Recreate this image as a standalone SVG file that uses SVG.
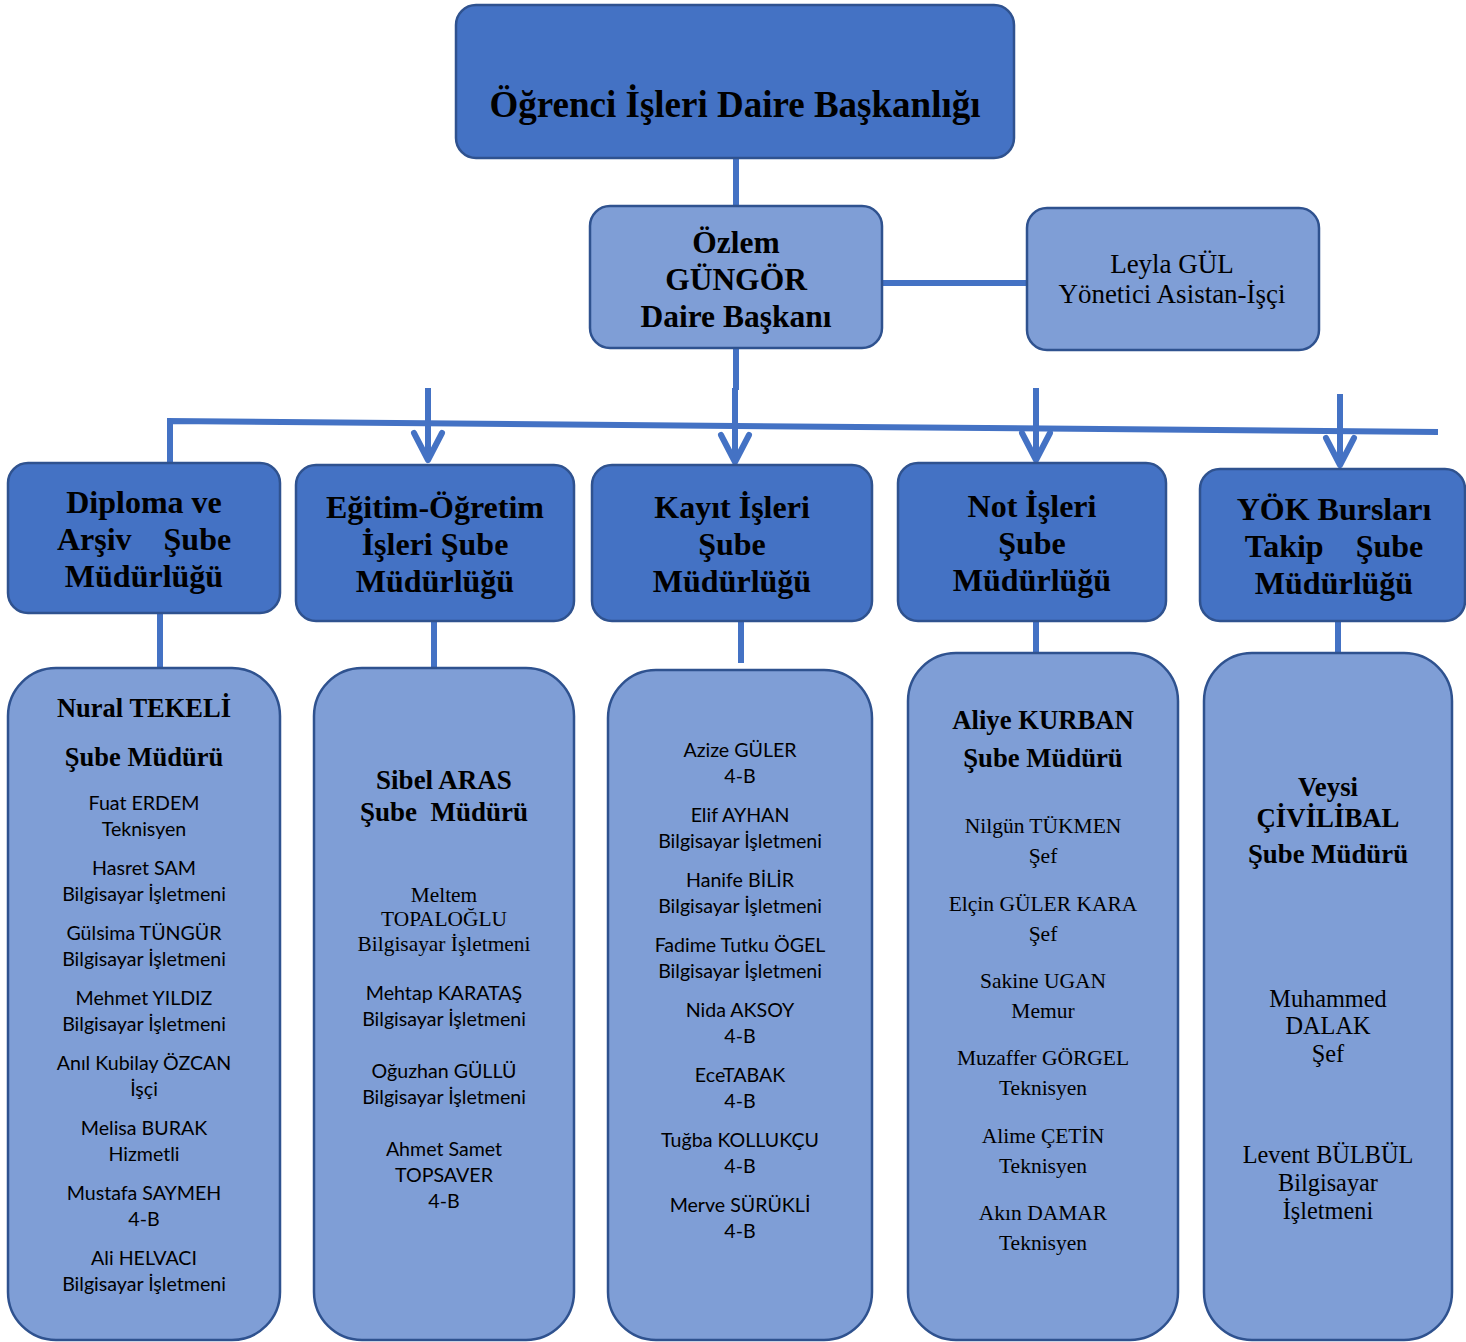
<svg xmlns="http://www.w3.org/2000/svg" width="1466" height="1342" viewBox="0 0 1466 1342">
<style>
.dk{fill:#4472C4;stroke:#2F528F;stroke-width:2.5}
.lt{fill:#7F9ED6;stroke:#2F528F;stroke-width:2.5}
.c{stroke:#4472C4;stroke-width:6;fill:none;stroke-linecap:butt}
.ah{stroke:#4472C4;stroke-width:6;fill:none;stroke-linecap:round;stroke-linejoin:round}
text{text-anchor:middle;fill:#000}
.sb{font-family:"Liberation Serif",serif;font-weight:bold}
.sr{font-family:"Liberation Serif",serif}
.ss{font-family:Lato,"Liberation Sans",sans-serif;font-size:19.6px}
</style>
<rect width="1466" height="1342" fill="#fff"/>
<g id="connectors">
<line class="c" x1="736" y1="158" x2="736" y2="206"/>
<line class="c" x1="882" y1="283" x2="1027" y2="283"/>
<line class="c" x1="736" y1="348" x2="736" y2="390"/>
<path class="c" d="M170 463 V421 L1438 432"/>
<line class="c" x1="428" y1="388" x2="428" y2="461"/>
<path class="ah" d="M414 433 L428 460 L442 433"/>
<line class="c" x1="735" y1="388" x2="735" y2="463"/>
<path class="ah" d="M721 435 L735 462 L749 435"/>
<line class="c" x1="1036" y1="388" x2="1036" y2="461"/>
<path class="ah" d="M1022 433 L1036 460 L1050 433"/>
<line class="c" x1="1340" y1="394" x2="1340" y2="466"/>
<path class="ah" d="M1326 438 L1340 465 L1354 438"/>
<line class="c" x1="160" y1="613" x2="160" y2="668"/>
<line class="c" x1="434" y1="621" x2="434" y2="668"/>
<line class="c" x1="741" y1="621" x2="741" y2="663"/>
<line class="c" x1="1036" y1="621" x2="1036" y2="653"/>
<line class="c" x1="1338" y1="621" x2="1338" y2="653"/>
</g>
<g id="top">
<rect class="dk" x="456" y="5" width="558" height="153" rx="20"/>
<text class="sb" x="735" y="117" font-size="37">Öğrenci İşleri Daire Başkanlığı</text>
</g>
<g id="baskan">
<rect class="lt" x="590" y="206" width="292" height="142" rx="20"/>
<text class="sb" x="736" y="253" font-size="31.5">Özlem</text>
<text class="sb" x="736" y="290" font-size="31.5">GÜNGÖR</text>
<text class="sb" x="736" y="327" font-size="31.5">Daire Başkanı</text>
</g>
<g id="asistan">
<rect class="lt" x="1027" y="208" width="292" height="142" rx="20"/>
<text class="sr" x="1172" y="273" font-size="27">Leyla GÜL</text>
<text class="sr" x="1172" y="303" font-size="27">Yönetici Asistan-İşçi</text>
</g>
<g id="sube1">
<rect class="dk" x="8" y="463" width="272" height="150" rx="20"/>
<text class="sb" x="144" y="513" font-size="32">Diploma ve</text>
<text class="sb" x="144" y="550" font-size="32" xml:space="preserve">Arşiv    Şube</text>
<text class="sb" x="144" y="587" font-size="32">Müdürlüğü</text>
</g>
<g id="sube2">
<rect class="dk" x="296" y="465" width="278" height="156" rx="20"/>
<text class="sb" x="435" y="518" font-size="32">Eğitim-Öğretim</text>
<text class="sb" x="435" y="555" font-size="32">İşleri Şube</text>
<text class="sb" x="435" y="592" font-size="32">Müdürlüğü</text>
</g>
<g id="sube3">
<rect class="dk" x="592" y="465" width="280" height="156" rx="20"/>
<text class="sb" x="732" y="518" font-size="32">Kayıt İşleri</text>
<text class="sb" x="732" y="555" font-size="32">Şube</text>
<text class="sb" x="732" y="592" font-size="32">Müdürlüğü</text>
</g>
<g id="sube4">
<rect class="dk" x="898" y="463" width="268" height="158" rx="20"/>
<text class="sb" x="1032" y="517" font-size="32">Not İşleri</text>
<text class="sb" x="1032" y="554" font-size="32">Şube</text>
<text class="sb" x="1032" y="591" font-size="32">Müdürlüğü</text>
</g>
<g id="sube5">
<rect class="dk" x="1200" y="469" width="265" height="152" rx="20"/>
<text class="sb" x="1334" y="520" font-size="32">YÖK Bursları</text>
<text class="sb" x="1334" y="557" font-size="32" xml:space="preserve">Takip    Şube</text>
<text class="sb" x="1334" y="594" font-size="32">Müdürlüğü</text>
</g>
<g id="kadro1">
<rect class="lt" x="8" y="668" width="272" height="672" rx="48"/>
<text class="sb" x="144" y="717" font-size="26.5">Nural TEKELİ</text>
<text class="sb" x="144" y="766" font-size="26.5">Şube Müdürü</text>
<g class="ss">
<text x="144" y="810">Fuat ERDEM</text><text x="144" y="836">Teknisyen</text>
<text x="144" y="875">Hasret SAM</text><text x="144" y="901">Bilgisayar İşletmeni</text>
<text x="144" y="940">Gülsima TÜNGÜR</text><text x="144" y="966">Bilgisayar İşletmeni</text>
<text x="144" y="1005">Mehmet YILDIZ</text><text x="144" y="1031">Bilgisayar İşletmeni</text>
<text x="144" y="1070">Anıl Kubilay ÖZCAN</text><text x="144" y="1096">İşçi</text>
<text x="144" y="1135">Melisa BURAK</text><text x="144" y="1161">Hizmetli</text>
<text x="144" y="1200">Mustafa SAYMEH</text><text x="144" y="1226">4-B</text>
<text x="144" y="1265">Ali HELVACI</text><text x="144" y="1291">Bilgisayar İşletmeni</text>
</g>
</g>
<g id="kadro2">
<rect class="lt" x="314" y="668" width="260" height="672" rx="48"/>
<text class="sb" x="444" y="789" font-size="27">Sibel ARAS</text>
<text class="sb" x="444" y="821" font-size="27" xml:space="preserve">Şube  Müdürü</text>
<text class="sr" x="444" y="902" font-size="21.4">Meltem</text>
<text class="sr" x="444" y="926" font-size="21.4">TOPALOĞLU</text>
<text class="sr" x="444" y="951" font-size="21.4">Bilgisayar İşletmeni</text>
<g class="ss">
<text x="444" y="1000">Mehtap KARATAŞ</text><text x="444" y="1026">Bilgisayar İşletmeni</text>
<text x="444" y="1078">Oğuzhan GÜLLÜ</text><text x="444" y="1104">Bilgisayar İşletmeni</text>
<text x="444" y="1156">Ahmet Samet</text><text x="444" y="1182">TOPSAVER</text><text x="444" y="1208">4-B</text>
</g>
</g>
<g id="kadro3">
<rect class="lt" x="608" y="670" width="264" height="670" rx="48"/>
<g class="ss">
<text x="740" y="757">Azize GÜLER</text><text x="740" y="783">4-B</text>
<text x="740" y="822">Elif AYHAN</text><text x="740" y="848">Bilgisayar İşletmeni</text>
<text x="740" y="887">Hanife BİLİR</text><text x="740" y="913">Bilgisayar İşletmeni</text>
<text x="740" y="952">Fadime Tutku ÖGEL</text><text x="740" y="978">Bilgisayar İşletmeni</text>
<text x="740" y="1017">Nida AKSOY</text><text x="740" y="1043">4-B</text>
<text x="740" y="1082">EceTABAK</text><text x="740" y="1108">4-B</text>
<text x="740" y="1147">Tuğba KOLLUKÇU</text><text x="740" y="1173">4-B</text>
<text x="740" y="1212">Merve SÜRÜKLİ</text><text x="740" y="1238">4-B</text>
</g>
</g>
<g id="kadro4">
<rect class="lt" x="908" y="653" width="270" height="687" rx="48"/>
<text class="sb" x="1043" y="729" font-size="26.7">Aliye KURBAN</text>
<text class="sb" x="1043" y="767" font-size="26.7">Şube Müdürü</text>
<g class="sr" font-size="21.5">
<text x="1043" y="833">Nilgün TÜKMEN</text><text x="1043" y="863">Şef</text>
<text x="1043" y="911">Elçin GÜLER KARA</text><text x="1043" y="941">Şef</text>
<text x="1043" y="988">Sakine UGAN</text><text x="1043" y="1018">Memur</text>
<text x="1043" y="1065">Muzaffer GÖRGEL</text><text x="1043" y="1095">Teknisyen</text>
<text x="1043" y="1143">Alime ÇETİN</text><text x="1043" y="1173">Teknisyen</text>
<text x="1043" y="1220">Akın DAMAR</text><text x="1043" y="1250">Teknisyen</text>
</g>
</g>
<g id="kadro5">
<rect class="lt" x="1204" y="653" width="248" height="687" rx="48"/>
<text class="sb" x="1328" y="796" font-size="26.8">Veysi</text>
<text class="sb" x="1328" y="827" font-size="26.8">ÇİVİLİBAL</text>
<text class="sb" x="1328" y="863" font-size="26.8">Şube Müdürü</text>
<g class="sr" font-size="24.3">
<text x="1328" y="1007">Muhammed</text><text x="1328" y="1034">DALAK</text><text x="1328" y="1062">Şef</text>
<text x="1328" y="1163">Levent BÜLBÜL</text><text x="1328" y="1191">Bilgisayar</text><text x="1328" y="1219">İşletmeni</text>
</g>
</g>
</svg>
